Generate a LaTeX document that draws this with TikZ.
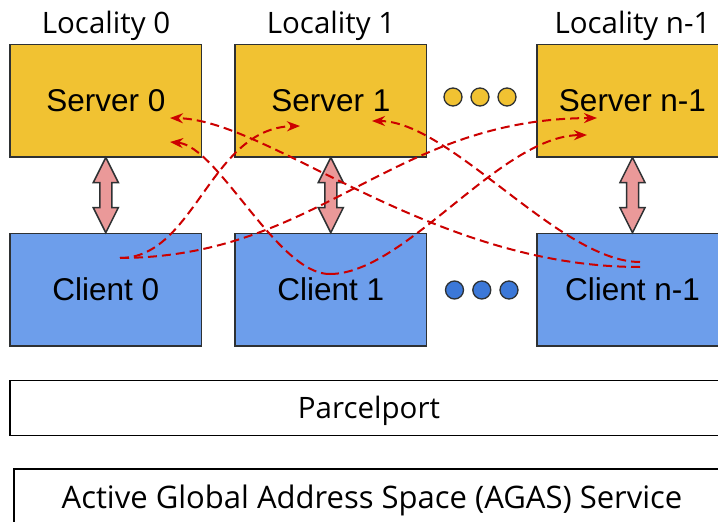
\documentclass[tikz,border=0pt]{standalone}
\usepackage{fontspec}
\setmainfont{Liberation Sans}
\newfontfamily\labelfont{Open Sans}
\usetikzlibrary{arrows.meta,calc}

\definecolor{srvfill}{HTML}{F1C232}
\definecolor{clifill}{HTML}{6D9EEB}
\definecolor{dotblue}{HTML}{3C78D8}
\definecolor{linkfill}{HTML}{EA9999}
\definecolor{edgegray}{HTML}{2E3133}
\definecolor{msgred}{HTML}{CC0000}

\begin{document}
\begin{tikzpicture}[x=1pt,y=-1pt,
  unit/.style={draw=edgegray, line width=1.5pt, minimum width=191.5pt,
    minimum height=112.5pt, inner sep=0pt, font=\fontsize{31.5}{36}\selectfont},
  server/.style={unit, fill=srvfill},
  client/.style={unit, fill=clifill},
  layer/.style={draw=black, line width=1.5pt, fill=white, inner sep=0pt,
    text height=21pt, text depth=0pt, font=\labelfont\fontsize{29.5}{34}\selectfont},
  loclabel/.style={anchor=base, inner sep=0pt, font=\labelfont\fontsize{29.5}{34}\selectfont},
  link/.style={draw=edgegray, line width=1.5pt, fill=linkfill, line join=miter},
  msg/.style={draw=msgred, line width=2pt, dash pattern=on 9pt off 5pt,
    -{Stealth[length=13pt,width=10pt]}},
  dotbase/.style={circle, draw=edgegray, line width=1.3pt, minimum size=18pt, inner sep=0pt},
  dotyellow/.style={dotbase, fill=srvfill},
  dotblue/.style={dotbase, fill=dotblue}
]
\clip (0,0) rectangle (718,522);
\fill[white] (0,0) rectangle (718,522);

% locality headings
\node[loclabel] (l0) at (106,33.3) {Locality 0};
\node[loclabel] (l1) at (331,33.3) {Locality 1};
\node[loclabel] (ln) at (632.5,33.3) {Locality n-1};

% servers and clients
\node[server] (s0) at (105.8,100.5) {Server 0};
\node[server] (s1) at (330.8,100.5) {Server 1};
\node[server] (sn) at (632.5,100.5) {Server n-1};
\node[client] (c0) at (105.8,289.7) {Client 0};
\node[client] (c1) at (330.8,289.7) {Client 1};
\node[client] (cn) at (632.5,289.7) {Client n-1};

% ellipsis dots
\node[dotyellow] (dy1) at (453,97) {};
\node[dotyellow] (dy2) at (480,97) {};
\node[dotyellow] (dy3) at (507,97) {};
\node[dotblue] (db1) at (454.5,290) {};
\node[dotblue] (db2) at (481.8,290) {};
\node[dotblue] (db3) at (509,290) {};

% lower layers
\node[layer, minimum width=718pt, minimum height=55pt] (pp) at (369,408.2) {Parcelport};
\node[layer, minimum width=716pt, minimum height=58pt,
  font=\labelfont\fontsize{31}{36}\selectfont] (agas) at (372,498)
  {Active Global Address Space (AGAS) Service};

% server <-> client links in each locality
\foreach \s/\c in {s0/c0, s1/c1, sn/cn}{
  \draw[link] (\s.south) -- ($(\s.south)+(12.5,25)$) -- ($(\s.south)+(6,25)$)
    -- ($(\c.north)+(6,-25)$) -- ($(\c.north)+(12.5,-25)$) -- (\c.north)
    -- ($(\c.north)+(-12.5,-25)$) -- ($(\c.north)+(-6,-25)$)
    -- ($(\s.south)+(-6,25)$) -- ($(\s.south)+(-12.5,25)$) -- cycle;
}

% message end points
\coordinate (c0out) at (120,258);
\coordinate (c1out) at (330,274);
\coordinate (cnouta) at (640,262);
\coordinate (cnoutb) at (640,267);
\coordinate (s0ina) at (170,118);
\coordinate (s0inb) at (170,142);
\coordinate (s1ina) at (300,126);
\coordinate (s1inb) at (372,121);
\coordinate (snina) at (597,118);
\coordinate (sninb) at (587,135);

% remote messages between localities
\draw[msg] (c0out) .. controls (195,258) and (210,128) .. (s1ina);
\draw[msg] (c0out) .. controls (320,257) and (390,119) .. (snina);
\draw[msg] (c1out) .. controls (278,275) and (218,146) .. (s0inb);
\draw[msg] (c1out) .. controls (405,274) and (500,136) .. (sninb);
\draw[msg] (cnoutb) .. controls (430,267) and (270,120) .. (s0ina);
\draw[msg] (cnouta) .. controls (560,262) and (450,121) .. (s1inb);
\end{tikzpicture}
\end{document}
